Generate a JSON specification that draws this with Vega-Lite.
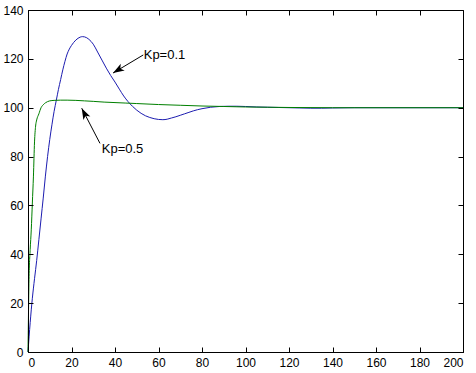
{
  "$schema": "https://vega.github.io/schema/vega-lite/v6.json",
  "width": 435,
  "height": 342,
  "autosize": {"type": "none"},
  "padding": {"left": 28, "top": 10, "right": 13, "bottom": 21},
  "background": "white",
  "config": {
    "view": {"stroke": "black", "strokeWidth": 1}
  },
  "datasets": {
    "curves": [
      {"t": 0, "y": 0, "series": "Kp=0.1"},
      {"t": 1, "y": 12, "series": "Kp=0.1"},
      {"t": 2, "y": 22, "series": "Kp=0.1"},
      {"t": 3, "y": 30, "series": "Kp=0.1"},
      {"t": 4, "y": 37.5, "series": "Kp=0.1"},
      {"t": 5, "y": 46, "series": "Kp=0.1"},
      {"t": 6, "y": 54.5, "series": "Kp=0.1"},
      {"t": 7, "y": 63, "series": "Kp=0.1"},
      {"t": 8, "y": 72, "series": "Kp=0.1"},
      {"t": 9, "y": 80, "series": "Kp=0.1"},
      {"t": 10, "y": 87, "series": "Kp=0.1"},
      {"t": 11, "y": 93, "series": "Kp=0.1"},
      {"t": 12, "y": 98.5, "series": "Kp=0.1"},
      {"t": 13, "y": 103, "series": "Kp=0.1"},
      {"t": 14, "y": 107.5, "series": "Kp=0.1"},
      {"t": 15, "y": 111.5, "series": "Kp=0.1"},
      {"t": 16, "y": 115.5, "series": "Kp=0.1"},
      {"t": 17, "y": 119, "series": "Kp=0.1"},
      {"t": 18, "y": 122, "series": "Kp=0.1"},
      {"t": 19, "y": 124, "series": "Kp=0.1"},
      {"t": 20, "y": 125.5, "series": "Kp=0.1"},
      {"t": 22, "y": 127.7, "series": "Kp=0.1"},
      {"t": 24, "y": 128.9, "series": "Kp=0.1"},
      {"t": 25, "y": 129.1, "series": "Kp=0.1"},
      {"t": 26, "y": 129, "series": "Kp=0.1"},
      {"t": 28, "y": 128, "series": "Kp=0.1"},
      {"t": 30, "y": 126, "series": "Kp=0.1"},
      {"t": 32, "y": 122.8, "series": "Kp=0.1"},
      {"t": 34, "y": 119.5, "series": "Kp=0.1"},
      {"t": 36, "y": 116.2, "series": "Kp=0.1"},
      {"t": 38, "y": 113.2, "series": "Kp=0.1"},
      {"t": 40, "y": 110.5, "series": "Kp=0.1"},
      {"t": 42, "y": 107.6, "series": "Kp=0.1"},
      {"t": 44, "y": 104.8, "series": "Kp=0.1"},
      {"t": 46, "y": 102.5, "series": "Kp=0.1"},
      {"t": 48, "y": 100.6, "series": "Kp=0.1"},
      {"t": 50, "y": 99, "series": "Kp=0.1"},
      {"t": 52, "y": 97.7, "series": "Kp=0.1"},
      {"t": 54, "y": 96.7, "series": "Kp=0.1"},
      {"t": 56, "y": 96, "series": "Kp=0.1"},
      {"t": 58, "y": 95.5, "series": "Kp=0.1"},
      {"t": 60, "y": 95.2, "series": "Kp=0.1"},
      {"t": 62, "y": 95.1, "series": "Kp=0.1"},
      {"t": 64, "y": 95.3, "series": "Kp=0.1"},
      {"t": 66, "y": 95.8, "series": "Kp=0.1"},
      {"t": 68, "y": 96.3, "series": "Kp=0.1"},
      {"t": 70, "y": 96.9, "series": "Kp=0.1"},
      {"t": 72, "y": 97.5, "series": "Kp=0.1"},
      {"t": 74, "y": 98.1, "series": "Kp=0.1"},
      {"t": 76, "y": 98.7, "series": "Kp=0.1"},
      {"t": 78, "y": 99.2, "series": "Kp=0.1"},
      {"t": 80, "y": 99.6, "series": "Kp=0.1"},
      {"t": 84, "y": 100.2, "series": "Kp=0.1"},
      {"t": 88, "y": 100.5, "series": "Kp=0.1"},
      {"t": 92, "y": 100.6, "series": "Kp=0.1"},
      {"t": 96, "y": 100.6, "series": "Kp=0.1"},
      {"t": 100, "y": 100.5, "series": "Kp=0.1"},
      {"t": 105, "y": 100.3, "series": "Kp=0.1"},
      {"t": 110, "y": 100.2, "series": "Kp=0.1"},
      {"t": 115, "y": 100.1, "series": "Kp=0.1"},
      {"t": 120, "y": 100, "series": "Kp=0.1"},
      {"t": 125, "y": 99.9, "series": "Kp=0.1"},
      {"t": 130, "y": 99.8, "series": "Kp=0.1"},
      {"t": 135, "y": 99.8, "series": "Kp=0.1"},
      {"t": 140, "y": 99.9, "series": "Kp=0.1"},
      {"t": 150, "y": 100, "series": "Kp=0.1"},
      {"t": 200, "y": 100, "series": "Kp=0.1"},
      {"t": 0, "y": 0, "series": "Kp=0.5"},
      {"t": 0.5, "y": 31, "series": "Kp=0.5"},
      {"t": 1, "y": 42, "series": "Kp=0.5"},
      {"t": 1.5, "y": 50, "series": "Kp=0.5"},
      {"t": 2, "y": 61, "series": "Kp=0.5"},
      {"t": 2.5, "y": 72, "series": "Kp=0.5"},
      {"t": 3, "y": 86, "series": "Kp=0.5"},
      {"t": 3.5, "y": 92.5, "series": "Kp=0.5"},
      {"t": 4, "y": 95, "series": "Kp=0.5"},
      {"t": 5, "y": 97.5, "series": "Kp=0.5"},
      {"t": 6, "y": 100, "series": "Kp=0.5"},
      {"t": 7, "y": 101.2, "series": "Kp=0.5"},
      {"t": 8, "y": 102, "series": "Kp=0.5"},
      {"t": 9, "y": 102.5, "series": "Kp=0.5"},
      {"t": 10, "y": 102.8, "series": "Kp=0.5"},
      {"t": 12, "y": 103, "series": "Kp=0.5"},
      {"t": 15, "y": 103.1, "series": "Kp=0.5"},
      {"t": 18, "y": 103.1, "series": "Kp=0.5"},
      {"t": 22, "y": 103, "series": "Kp=0.5"},
      {"t": 26, "y": 102.8, "series": "Kp=0.5"},
      {"t": 30, "y": 102.6, "series": "Kp=0.5"},
      {"t": 35, "y": 102.3, "series": "Kp=0.5"},
      {"t": 40, "y": 102.1, "series": "Kp=0.5"},
      {"t": 45, "y": 101.9, "series": "Kp=0.5"},
      {"t": 50, "y": 101.7, "series": "Kp=0.5"},
      {"t": 60, "y": 101.3, "series": "Kp=0.5"},
      {"t": 70, "y": 101, "series": "Kp=0.5"},
      {"t": 80, "y": 100.7, "series": "Kp=0.5"},
      {"t": 90, "y": 100.5, "series": "Kp=0.5"},
      {"t": 100, "y": 100.3, "series": "Kp=0.5"},
      {"t": 110, "y": 100.2, "series": "Kp=0.5"},
      {"t": 120, "y": 100.1, "series": "Kp=0.5"},
      {"t": 140, "y": 100, "series": "Kp=0.5"},
      {"t": 200, "y": 100, "series": "Kp=0.5"}
    ],
    "arrows": [
      {"label": "Kp=0.1", "t1": 53.0, "y1": 121.6, "t2": 39.1, "y2": 114.2},
      {"label": "Kp=0.5", "t1": 33.1, "y1": 85.4, "t2": 24.7, "y2": 99.8}
    ],
    "labels": [
      {"label": "Kp=0.1", "t": 53.2, "y": 121.6},
      {"label": "Kp=0.5", "t": 33.9, "y": 83.1}
    ]
  },
  "layer": [
    {
      "data": {"name": "curves"},
      "mark": {"type": "line", "strokeWidth": 1, "interpolate": "monotone"},
      "encoding": {
        "x": {"field": "t", "type": "quantitative", "scale": {"domain": [0, 200], "nice": false},
              "axis": {"orient": "bottom", "tickCount": 10, "title": null,
                       "grid": true, "gridColor": "black", "gridOpacity": 1, "gridWidth": 1, "gridDash": [5, 332],
                       "ticks": false, "labelPadding": 5, "domainColor": "black", "zindex": 1,
                       "labelFont": "Liberation Sans", "labelFontSize": 12, "labelColor": "black"}},
        "y": {"field": "y", "type": "quantitative", "scale": {"domain": [0, 140], "nice": false},
              "axis": {"orient": "left", "tickCount": 7, "title": null,
                       "grid": true, "gridColor": "black", "gridOpacity": 1, "gridWidth": 1, "gridDash": [5, 425],
                       "ticks": false, "labelPadding": 5, "domainColor": "black", "zindex": 1,
                       "labelFont": "Liberation Sans", "labelFontSize": 12, "labelColor": "black"}},
        "color": {"field": "series", "type": "nominal",
                  "scale": {"domain": ["Kp=0.1", "Kp=0.5"], "range": ["#1c1cb0", "#007f00"]},
                  "legend": null}
      }
    },
    {
      "data": {"name": "arrows"},
      "mark": {"type": "rule", "color": "black", "strokeWidth": 1},
      "encoding": {
        "x": {"field": "t1", "type": "quantitative"},
        "y": {"field": "y1", "type": "quantitative"},
        "x2": {"field": "t2"},
        "y2": {"field": "y2"}
      }
    },
    {
      "data": {"name": "arrows"},
      "transform": [{"filter": "datum.label === 'Kp=0.1'"}],
      "mark": {"type": "point", "shape": "M0,0 L0.55,1.6 L0,1.2 L-0.55,1.6 Z", "filled": true, "color": "black", "opacity": 1, "size": 200, "angle": 239},
      "encoding": {
        "x": {"field": "t2", "type": "quantitative"},
        "y": {"field": "y2", "type": "quantitative"}
      }
    },
    {
      "data": {"name": "arrows"},
      "transform": [{"filter": "datum.label === 'Kp=0.5'"}],
      "mark": {"type": "point", "shape": "M0,0 L0.55,1.6 L0,1.2 L-0.55,1.6 Z", "filled": true, "color": "black", "opacity": 1, "size": 200, "angle": 333},
      "encoding": {
        "x": {"field": "t2", "type": "quantitative"},
        "y": {"field": "y2", "type": "quantitative"}
      }
    },
    {
      "data": {"name": "labels"},
      "mark": {"type": "text", "align": "left", "baseline": "middle", "font": "Liberation Sans", "fontSize": 13, "color": "black"},
      "encoding": {
        "x": {"field": "t", "type": "quantitative"},
        "y": {"field": "y", "type": "quantitative"},
        "text": {"field": "label"}
      }
    }
  ]
}
